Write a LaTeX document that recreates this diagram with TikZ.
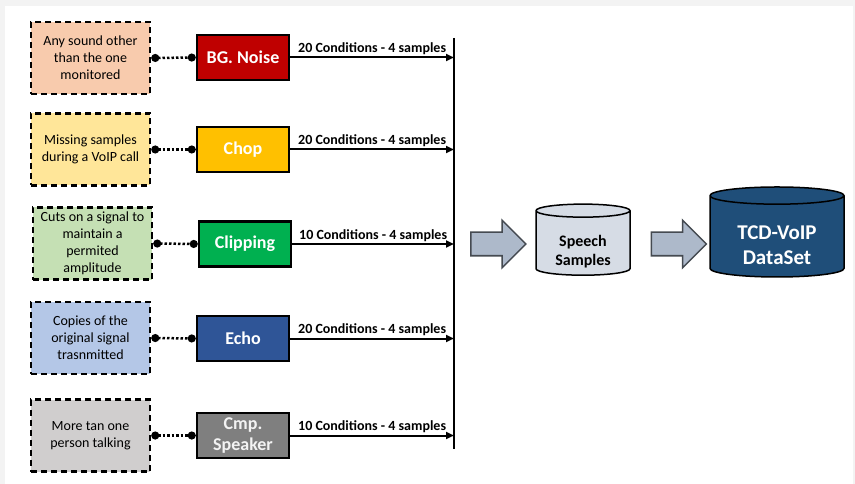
\documentclass[tikz,border=0pt]{standalone}
\usepackage{fontspec}
\setmainfont{Carlito}
\usetikzlibrary{shapes.geometric,shapes.arrows,arrows.meta}

\begin{document}
\begin{tikzpicture}[x=1pt,y=-1pt,
  descbox/.style={draw=black,line width=2.5pt,dash pattern=on 6pt off 4pt,minimum width=119pt,minimum height=72pt,inner sep=1pt,align=center,font=\fontsize{14}{17}\selectfont},
  condbox/.style={draw=black,line width=2.5pt,minimum width=92pt,minimum height=45pt,inner sep=1pt,align=center,text=white,font=\fontsize{18}{21}\selectfont\bfseries},
  dotlink/.style={line width=2.5pt,dash pattern=on 2.5pt off 2pt,{Circle[length=8pt]}-{Circle[length=8pt]}},
  feed/.style={line width=2pt,-{Triangle[length=8pt,width=7pt]}},
  feedlabel/.style={above,midway,inner sep=1.5pt,font=\fontsize{14}{17}\selectfont\bfseries},
  blockarrow/.style={single arrow,draw=cba!40!black,fill=cba,line width=1.5pt,minimum height=55pt,minimum width=46pt,single arrow head extend=12pt,inner xsep=0pt,inner ysep=11pt},
  store/.style={cylinder,shape border rotate=90,draw=black,line width=1.5pt,align=center}]
\definecolor{cbg}{rgb}{0.953,0.953,0.953}
\definecolor{cfd0}{rgb}{0.973,0.796,0.678}
\definecolor{cfc0}{rgb}{0.75,0.0,0.0}
\definecolor{cfd1}{rgb}{1.0,0.902,0.6}
\definecolor{cfc1}{rgb}{1.0,0.753,0.0}
\definecolor{cfd2}{rgb}{0.773,0.878,0.706}
\definecolor{cfc2}{rgb}{0.0,0.69,0.314}
\definecolor{cfd3}{rgb}{0.706,0.78,0.906}
\definecolor{cfc3}{rgb}{0.184,0.333,0.592}
\definecolor{cfd4}{rgb}{0.816,0.808,0.808}
\definecolor{cfc4}{rgb}{0.498,0.498,0.498}
\definecolor{cba}{rgb}{0.678,0.725,0.792}
\definecolor{cfs}{rgb}{0.839,0.863,0.898}
\definecolor{cft}{rgb}{0.122,0.306,0.475}
%
\useasboundingbox (0,0) rectangle (855,484);
\fill[cbg] (0,0) rectangle (855,484);
\fill[white] (5,6) rectangle (853,484);
%
\node[descbox,fill=cfd0] (d0) at (90.5,58) {Any sound other\\than the one\\monitored};
\node[descbox,fill=cfd1] (d1) at (90.5,149.5) {Missing samples\\during a VoIP call};
\node[descbox,fill=cfd2] (d2) at (92.5,243.5) {Cuts on a signal to\\maintain a\\permited\\amplitude};
\node[descbox,fill=cfd3] (d3) at (90.5,338) {Copies of the\\original signal\\trasnmitted};
\node[descbox,fill=cfd4] (d4) at (90.5,435.5) {More tan one\\person talking};
%
\node[condbox,fill=cfc0] (c0) at (243,57.5) {BG. Noise};
\node[condbox,fill=cfc1] (c1) at (243,149.5) {Chop};
\node[condbox,fill=cfc2] (c2) at (245,244) {Clipping};
\node[condbox,fill=cfc3] (c3) at (243,338.5) {Echo};
\node[condbox,fill=cfc4,text=cbg] (c4) at (243,435.5) {Cmp.\\Speaker};
%
\coordinate (bt) at (454,38);
\coordinate (bb) at (454,449);
\draw[line width=2.5pt] (bt) -- (bb);
%
\node[blockarrow] (a0) at (492.5,244) {};
\node[store,fill=cfs,minimum width=94pt,minimum height=63pt,aspect=0.21,text height=44pt,font=\fontsize{16}{19}\selectfont\bfseries] (s0) at (583,244.5) {Speech\\Samples};
\node[blockarrow] (a1) at (673,244) {};
\node[store,fill=cft,text=white,minimum width=134pt,minimum height=90pt,aspect=0.2,text height=54pt,font=\fontsize{21}{25}\selectfont\bfseries] (s1) at (777,238) {TCD-VoIP\\DataSet};
%
\draw[dotlink] (d0.east) -- (c0.west);
\draw[dotlink] (d1.east) -- (c1.west);
\draw[dotlink] (d2.east) -- (c2.west);
\draw[dotlink] (d3.east) -- (c3.west);
\draw[dotlink] (d4.east) -- (c4.west);
%
\draw[feed] (c0.east) -- (c0.east -| bt) node[feedlabel] {20 Conditions - 4 samples};
\draw[feed] (c1.east) -- (c1.east -| bt) node[feedlabel] {20 Conditions - 4 samples};
\draw[feed] (c2.east) -- (c2.east -| bt) node[feedlabel] {10 Conditions - 4 samples};
\draw[feed] (c3.east) -- (c3.east -| bt) node[feedlabel] {20 Conditions - 4 samples};
\draw[feed] (c4.east) -- (c4.east -| bt) node[feedlabel] {10 Conditions - 4 samples};
%
\end{tikzpicture}
\end{document}
